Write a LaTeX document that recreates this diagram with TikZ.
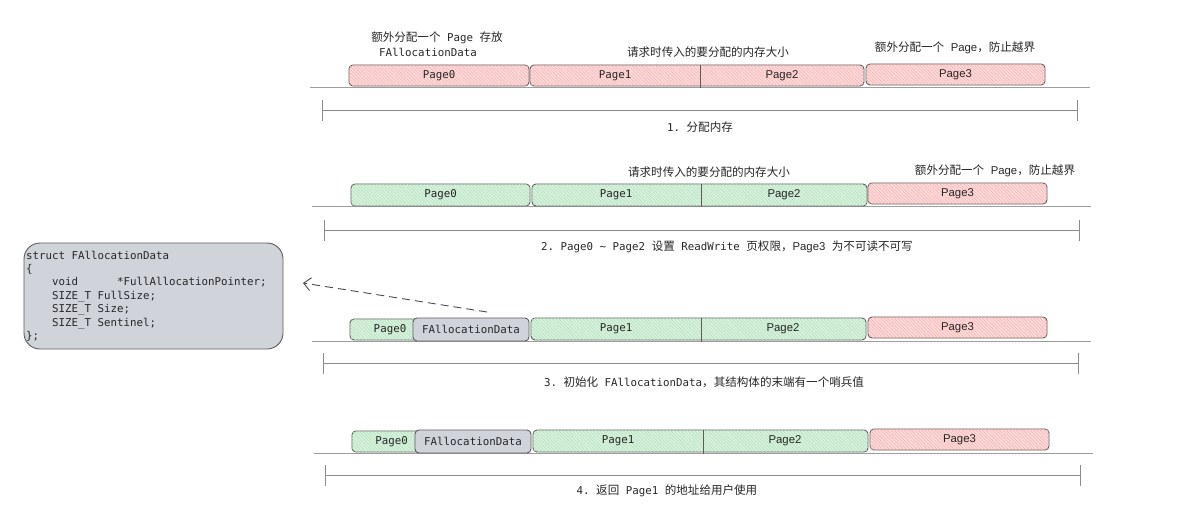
\documentclass[tikz,border=0pt]{standalone}
\usepackage{fontspec}
\setmonofont{DejaVu Sans Mono}
\newfontfamily\cjk{Noto Sans CJK SC}[Scale=1.07]
\newfontfamily\arial{Liberation Sans}[Scale=1.05]
\usetikzlibrary{arrows.meta,patterns.meta}
\definecolor{redfill}{HTML}{FFDADA}
\definecolor{redhatch}{HTML}{F2B0B0}
\definecolor{grnfill}{HTML}{D8F2DE}
\definecolor{grnhatch}{HTML}{B0DEBB}
\definecolor{greyfill}{HTML}{D0D4DA}
\definecolor{boxline}{HTML}{5C5C5C}
\definecolor{rulec}{HTML}{8C8C8C}
\definecolor{txt}{HTML}{262626}
\newcommand\zh[1]{{\cjk #1}}
\newcommand\sa[1]{{\arial #1}}
\newcommand\ms[1]{\hphantom{#1}}
\newcommand\pbox[7]{\node[#2, minimum width={#4pt-#3pt}, minimum height={#6pt-#5pt}] (#1) at ({(#3+#4)/2},{(#5+#6)/2}) {#7};}
\tikzset{
  pg/.style={draw=boxline, line width=0.9pt, rounded corners=4pt, inner sep=0pt, text=txt},
  redpg/.style={pg, fill=redfill, postaction={pattern={Lines[angle=-45,distance=2.4pt,line width=0.5pt]}, pattern color=redhatch}},
  grnpg/.style={pg, fill=grnfill, postaction={pattern={Lines[angle=-45,distance=2.4pt,line width=0.5pt]}, pattern color=grnhatch}},
  greypg/.style={pg, fill=greyfill},
  lbl/.style={inner sep=0pt, text=txt},
  baseln/.style={draw=rulec!85, line width=1pt},
  dimln/.style={draw=rulec, line width=0.9pt, {Bar[width=21pt]}-{Bar[width=21pt]}},
  divln/.style={draw=boxline, line width=0.9pt},
  every node/.style={font=\fontsize{10.8}{13.4}\selectfont\ttfamily},
}
\begin{document}
\begin{tikzpicture}[x=1pt,y=-1pt]
\useasboundingbox (0,0) rectangle (1191,527);

% ---------- Row 1 ----------
\draw[baseln] (310,87) -- (1090,87);
\pbox{r1p0}{redpg}{349}{529}{65}{86}{Page0}
\pbox{r1p12}{redpg}{530}{864}{65}{86}{}
\pbox{r1p3}{redpg}{866}{1045}{64}{85}{\sa{Page3}}
\draw[divln] (700,65) -- (700,88);
\node[lbl] (r1p1) at (615,75.5) {Page1};
\node[lbl] (r1p2) at (782,75.5) {\sa{Page2}};
\node[lbl, align=center, font=\fontsize{10.8}{15}\selectfont\ttfamily] (r1t1) at (437,44.5) {\zh{额外分配一个} Page \zh{存放}\\FAllocationData\hspace*{18pt}};
\node[lbl] (r1t2) at (708,52) {\zh{请求时传入的要分配的内存大小}};
\node[lbl] (r1t3) at (955,48) {\zh{额外分配一个}\ \sa{Page}\zh{，防止越界}};
\draw[dimln] (322,110) -- (1078,110);
\node[lbl] (r1cap) at (700,127) {1. \zh{分配内存}};

% ---------- Row 2 ----------
\draw[baseln] (312,206) -- (1091,206);
\pbox{r2p0}{grnpg}{351}{530}{184}{206}{Page0}
\pbox{r2p12}{grnpg}{532}{867}{184}{206}{}
\pbox{r2p3}{redpg}{868}{1047}{183}{204}{\sa{Page3}}
\draw[divln] (701,184) -- (701,207);
\node[lbl] (r2p1) at (616,195) {Page1};
\node[lbl] (r2p2) at (784,195) {\sa{Page2}};
\node[lbl] (r2t2) at (709,172) {\zh{请求时传入的要分配的内存大小}};
\node[lbl] (r2t3) at (995,171) {\zh{额外分配一个}\ \sa{Page}\zh{，防止越界}};
\draw[dimln] (324,230) -- (1080,230);
\node[lbl] (r2cap) at (727,247) {2. Page0 \textasciitilde\ Page2 \zh{设置} ReadWrite \zh{页权限，}\sa{Page3} \zh{为不可读不可写}};

% ---------- Row 3 ----------
\draw[baseln] (312,341) -- (1091,341);
\pbox{r3p0}{grnpg}{350}{430}{319}{340}{Page0}
\pbox{r3fa}{greypg}{413}{529}{318}{341}{FAllocationData}
\pbox{r3p12}{grnpg}{531}{866}{318}{340}{}
\pbox{r3p3}{redpg}{868}{1047}{317}{338}{\sa{Page3}}
\draw[divln] (701,318) -- (701,342);
\node[lbl] (r3p1) at (616,329) {Page1};
\node[lbl] (r3p2) at (783,329) {\sa{Page2}};
\draw[dimln] (323,363) -- (1079,363);
\node[lbl] (r3cap) at (704,382) {3. \zh{初始化} FAllocationData\zh{，其结构体的末端有一个哨兵值}};

% ---------- Row 4 ----------
\draw[baseln] (314,453) -- (1093,453);
\pbox{r4p0}{grnpg}{352}{431}{431}{452}{Page0}
\pbox{r4fa}{greypg}{415}{531}{430}{453}{FAllocationData}
\pbox{r4p12}{grnpg}{533}{868}{430}{452}{}
\pbox{r4p3}{redpg}{870}{1049}{429}{450}{\sa{Page3}}
\draw[divln] (703,430) -- (703,454);
\node[lbl] (r4p1) at (618,441) {Page1};
\node[lbl] (r4p2) at (785,441) {\sa{Page2}};
\draw[dimln] (325,475) -- (1081,475);
\node[lbl] (r4cap) at (667,491) {4. \zh{返回} Page1 \zh{的地址给用户使用}};

% ---------- struct box ----------
\node[draw=boxline, line width=0.9pt, fill=greyfill, rounded corners=16pt,
      minimum width=259pt, minimum height=106pt, text width=255pt, inner xsep=2pt,
      align=left, text=txt] (st) at (153.5,296)
  {struct\ms{0}FAllocationData\\
   \{\\
   \ms{0000}void\ms{000000}*FullAllocationPointer;\\
   \ms{0000}SIZE\_T\ms{0}FullSize;\\
   \ms{0000}SIZE\_T\ms{0}Size;\\
   \ms{0000}SIZE\_T\ms{0}Sentinel;\\
   \};};

% ---------- dashed arrow ----------
\coordinate (arrS) at (487,312);
\coordinate (arrE) at (303,283);
\draw[draw=boxline!80!black, line width=0.9pt, dash pattern=on 8pt off 5pt,
      -{Straight Barb[length=7pt,width=13pt]}] (arrS) -- (arrE);
\end{tikzpicture}
\end{document}
